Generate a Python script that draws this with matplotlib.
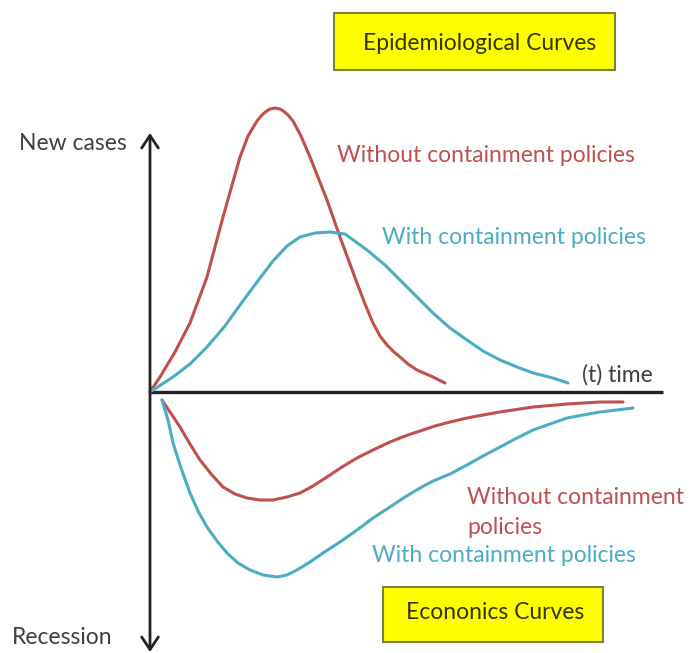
import matplotlib
matplotlib.use("Agg")
import matplotlib.pyplot as plt
from matplotlib.patches import Rectangle

plt.rcParams['font.family'] = ['Lato', 'DejaVu Sans']

# Data (time units, new cases above 0, recession below 0)
red_epi_t = [0, 1.0, 2.5, 4.0, 5.7, 7.3, 9.0, 9.8, 10.7, 11.2, 11.6, 12.0, 12.5, 13.0,
             13.4, 13.8, 14.3, 15.1, 16.0, 17.7, 19.0, 20.7, 21.5, 22.3, 23.0, 23.7,
             24.4, 25.0, 25.8, 26.7, 28.3, 29.5]
red_epi_v = [0, 1.5, 4.0, 6.9, 11.5, 17.5, 23.5, 25.6, 27.1, 27.7, 28.05, 28.3, 28.4, 28.3,
             28.05, 27.7, 27.1, 25.6, 23.5, 19.2, 15.5, 10.9, 8.8, 6.9, 5.6, 4.7,
             4.0, 3.5, 2.8, 2.2, 1.5, 0.9]

teal_epi_t = [0, 2.3, 4.0, 5.7, 7.5, 9.0, 10.7, 12.3, 13.7, 15.0, 16.5, 18.0, 19.5, 21.7,
              23.5, 25.0, 26.7, 28.3, 30.0, 31.7, 33.3, 35.0, 36.7, 38.3, 40.3, 41.8]
teal_epi_v = [0, 1.5, 2.8, 4.5, 6.6, 8.7, 11.0, 13.1, 14.6, 15.5, 15.9, 16.0, 15.8, 14.2,
              12.7, 11.2, 9.5, 7.9, 6.4, 5.2, 4.1, 3.2, 2.5, 1.9, 1.4, 0.9]

red_econ_t = [1.2, 2.0, 3.0, 4.0, 5.0, 6.2, 7.3, 8.5, 9.7, 11.0, 12.3, 13.7, 15.0, 16.3,
              17.7, 19.2, 20.7, 22.3, 24.0, 25.5, 27.0, 28.5, 30.0, 31.7, 33.3, 35.0,
              38.3, 41.7, 45.0, 47.3]
red_econ_v = [-0.8, -2.0, -3.5, -5.2, -6.8, -8.3, -9.5, -10.2, -10.6, -10.8, -10.8, -10.5,
              -10.1, -9.4, -8.5, -7.5, -6.6, -5.8, -5.0, -4.4, -3.9, -3.4, -3.0, -2.6,
              -2.3, -2.0, -1.5, -1.2, -1.0, -1.0]

teal_econ_t = [1.2, 1.8, 2.3, 3.1, 4.0, 4.8, 5.7, 6.7, 7.7, 8.8, 10.0, 11.3, 12.7, 13.7,
               14.7, 16.0, 17.3, 19.0, 20.7, 22.3, 24.0, 25.5, 27.0, 28.3, 30.0, 31.7, 33.3,
               35.0, 36.7, 38.3, 40.0, 41.7, 43.3, 45.0, 46.7, 48.3]
teal_econ_v = [-0.8, -2.8, -5.1, -7.6, -10.1, -11.9, -13.5, -14.9, -16.1, -17.1, -17.8,
               -18.3, -18.5, -18.3, -17.8, -17.0, -16.1, -15.0, -13.8, -12.6, -11.5, -10.5,
               -9.6, -8.9, -8.2, -7.3, -6.4, -5.5, -4.6, -3.8, -3.2, -2.6, -2.3, -2.0,
               -1.8, -1.6]

# Axis extents
T_END = 51.3
CASES_TOP = 25.9
RECESSION_BOTTOM = -26.0

RED = '#C0504D'
TEAL = '#4BACC6'
GREY = '#404040'

fig = plt.figure(figsize=(6.92, 6.53), dpi=100)
ax = fig.add_axes([0, 0, 1, 1])
ax.set_xlim(-15.0, 54.2)
ax.set_ylim(-26.1, 39.2)
ax.axis('off')

# Axes
ax.annotate('', xy=(0, CASES_TOP), xytext=(0, RECESSION_BOTTOM),
            arrowprops=dict(arrowstyle='<->,head_length=0.45,head_width=0.3',
                            lw=2, color='#222222', mutation_scale=20,
                            shrinkA=0, shrinkB=0))
ax.plot([0, T_END], [0, 0], color='#222222', lw=2.4, solid_capstyle='butt')

# Curves
line_kw = dict(lw=2.2, solid_joinstyle='round', solid_capstyle='round')
ax.plot(red_epi_t, red_epi_v, color=RED, **line_kw)
ax.plot(teal_epi_t, teal_epi_v, color=TEAL, **line_kw)
ax.plot(red_econ_t, red_econ_v, color=RED, **line_kw)
ax.plot(teal_econ_t, teal_econ_v, color=TEAL, **line_kw)

# Labels
fs = 16.5
ax.text(-2.3, 24.9, 'New cases', ha='right', va='center', fontsize=fs, color=GREY)
ax.text(-13.8, -24.5, 'Recession', ha='left', va='center', fontsize=fs, color=GREY)
ax.text(43.2, 1.7, '(t) time', ha='left', va='center', fontsize=fs, color=GREY)
ax.text(18.7, 23.7, 'Without containment policies', ha='left', va='center', fontsize=fs, color=RED)
ax.text(23.2, 15.5, 'With containment policies', ha='left', va='center', fontsize=fs, color=TEAL)
ax.text(31.7, -10.5, 'Without containment', ha='left', va='center', fontsize=fs, color=RED)
ax.text(31.7, -13.5, 'policies', ha='left', va='center', fontsize=fs, color=RED)
ax.text(22.2, -16.3, 'With containment policies', ha='left', va='center', fontsize=fs, color=TEAL)

# Title boxes
fig.patches.append(Rectangle((0.4827, 0.893), 0.406, 0.0873, transform=fig.transFigure,
                             facecolor='#FFFF00', edgecolor='#7F7F3F', lw=1.5))
fig.text(0.6936, 0.934, 'Epidemiological Curves', ha='center', va='center',
         fontsize=fs, color='#333300')
fig.patches.append(Rectangle((0.5535, 0.0168), 0.318, 0.0842, transform=fig.transFigure,
                             facecolor='#FFFF00', edgecolor='#7F7F3F', lw=1.5))
fig.text(0.7153, 0.0613, 'Econonics Curves', ha='center', va='center',
         fontsize=fs, color='#333300')

fig.savefig('out.png', dpi=100)
